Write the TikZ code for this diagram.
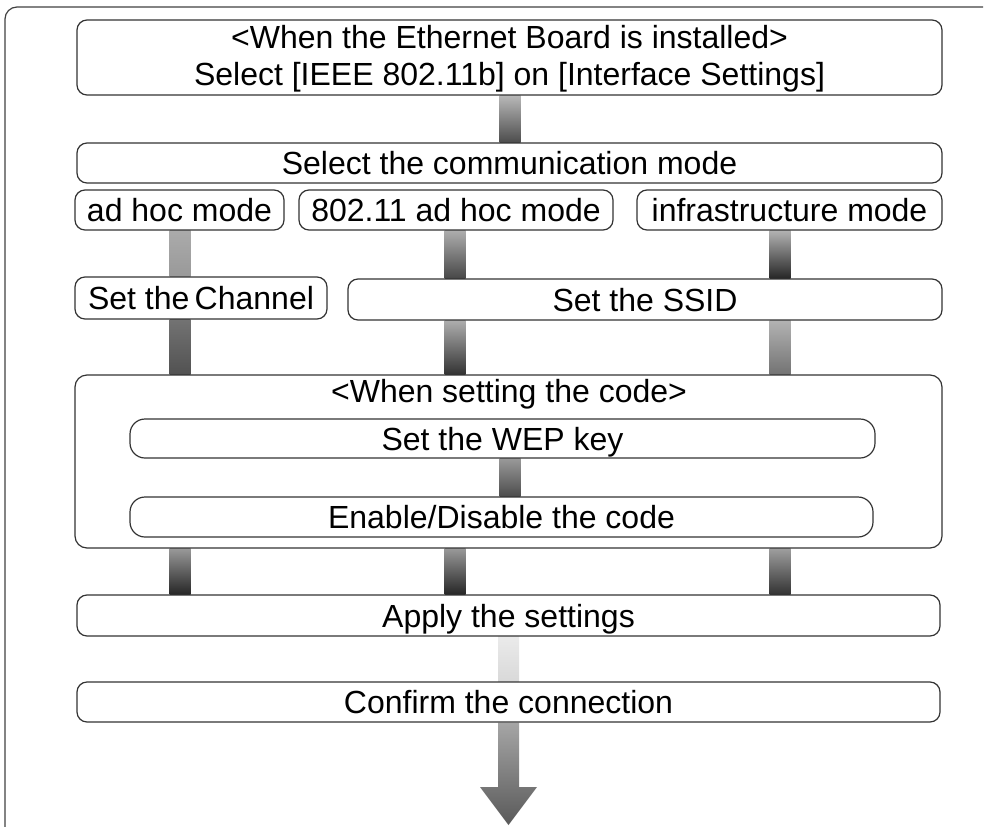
\documentclass[tikz,border=0pt]{standalone}
\usepackage{fontspec}
\setmainfont{Liberation Sans}
\usetikzlibrary{calc,backgrounds}
\newcommand\gbar[5]{%
  \path[top color=black!#4, bottom color=black!#5]
    ($(#1 -| #3)+(-10.5,0)$) rectangle ($(#2 -| #3)+(10.5,0)$);}
\begin{document}
\begin{tikzpicture}[x=1pt,y=-1pt,
  txt/.style={font=\fontsize{32}{37}\selectfont},
  box/.style={txt, draw=black!80, line width=1.2pt, rounded corners=10pt,
    minimum height=40pt, inner sep=0pt, text height=23pt, text depth=0pt},
  pill/.style={box, rounded corners=15pt},
  lbl/.style={txt, inner sep=0pt, text height=23pt, text depth=0pt},
]
\useasboundingbox (0,0) rectangle (985,827);
\draw[black!75, line width=1.2pt, rounded corners=12pt] (983,7) -- (5,7) -- (5,827);

% column coordinates
\coordinate (cC) at (510,0);
\coordinate (cL) at (180,0);
\coordinate (cM) at (455,0);
\coordinate (cR) at (780,0);
\coordinate (cA) at (508.5,0);

\node[box, minimum width=865pt, minimum height=75pt] (b1) at (509.5,57.5) {};
\node[lbl] (b1a) at (509.5,37) {<When the Ethernet Board is installed>};
\node[lbl] (b1b) at (509.5,74) {Select [IEEE 802.11b] on [Interface Settings]};

\node[box, minimum width=865pt] (b2) at (509.5,163) {Select the communication mode};

\node[box, minimum width=209pt] (m1) at (179.5,210) {ad hoc mode};
\node[box, minimum width=314pt] (m2) at (456,210) {802.11 ad hoc mode};
\node[box, minimum width=305pt] (m3) at (789.5,210) {infrastructure mode};

\node[box, minimum width=252pt, minimum height=42pt] (ch) at (201,298) {Set the\,Channel};
\node[box, minimum width=594pt, minimum height=41pt] (ss) at (645,299.5) {Set the SSID};

\node[box, rounded corners=12pt, minimum width=867pt, minimum height=173pt] (code) at (508.5,461.5) {};
\node[lbl] (codet) at (509,391) {<When setting the code>};
\node[pill, minimum width=745pt, minimum height=39pt] (wep) at (502.5,438.5) {Set the WEP key};
\node[pill, minimum width=743pt] (en) at (501.5,517) {Enable/Disable the code};

\node[box, minimum width=863pt, minimum height=41pt] (ap) at (508.5,615.5) {Apply the settings};
\node[box, minimum width=863pt] (cf) at (508.5,702) {Confirm the connection};
\coordinate (atip) at (cf.south -| cA);
\coordinate (atip) at ($(atip |- 0,825)$);

\begin{scope}[on background layer]
\gbar{b1.south}{b2.north}{cC}{28}{70}
\gbar{m1.south}{ch.north}{cL}{33}{40}
\gbar{m2.south}{ss.north}{cM}{32}{72}
\gbar{m3.south}{ss.north}{cR}{30}{85}
\gbar{ch.south}{code.north}{cL}{55}{68}
\gbar{ss.south}{code.north}{cM}{32}{80}
\gbar{ss.south}{code.north}{cR}{30}{55}
\gbar{wep.south}{en.north}{cC}{40}{70}
\gbar{code.south}{ap.north}{cL}{40}{85}
\gbar{code.south}{ap.north}{cM}{40}{85}
\gbar{code.south}{ap.north}{cR}{38}{80}
\gbar{ap.south}{cf.north}{cA}{8}{15}
\path[top color=black!35, bottom color=black!65]
  ($(cf.south -| cA)+(-10.5,0)$) -- ($(cf.south -| cA)+(10.5,0)$)
  -- ($(atip)+(10.5,-38)$) -- ($(atip)+(28.5,-38)$) -- (atip)
  -- ($(atip)+(-28.5,-38)$) -- ($(atip)+(-10.5,-38)$) -- cycle;
\end{scope}
\end{tikzpicture}
\end{document}
